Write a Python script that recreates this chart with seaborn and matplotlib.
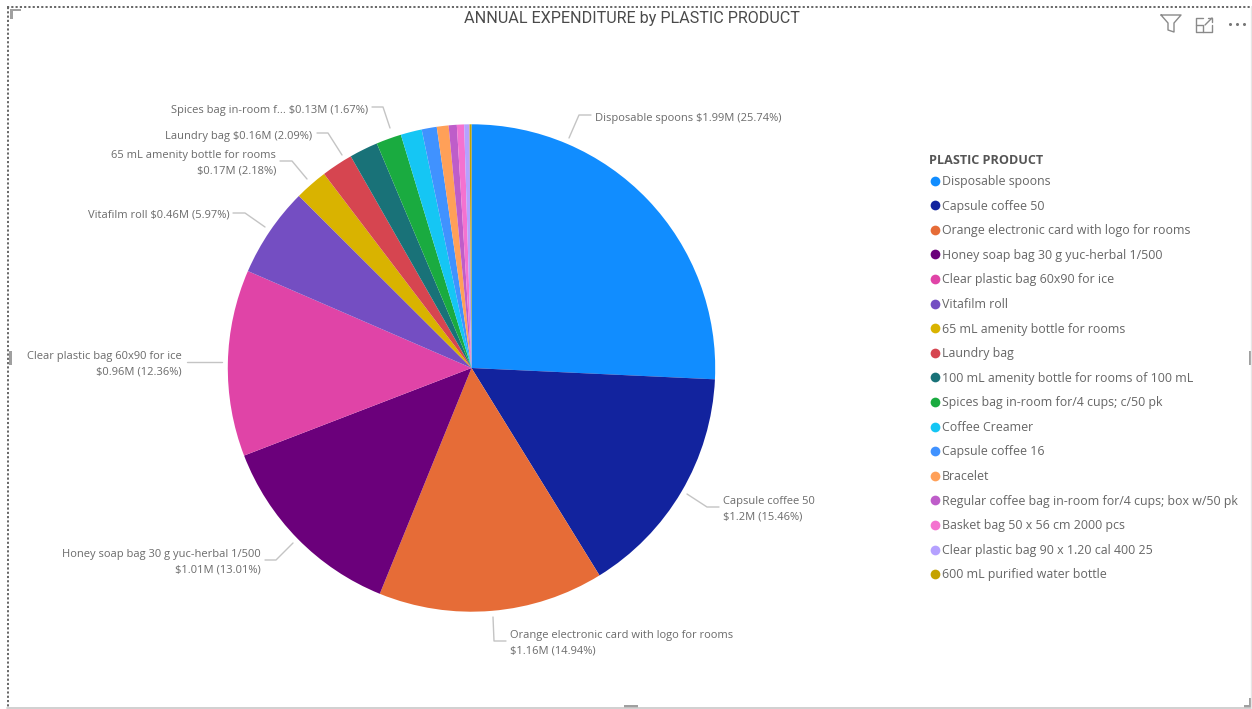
import matplotlib
matplotlib.use("Agg")
import matplotlib.pyplot as plt
from matplotlib.lines import Line2D
from matplotlib.patches import Rectangle
import seaborn as sns

products = [
    "Disposable spoons", "Capsule coffee 50", "Orange electronic card with logo for rooms",
    "Honey soap bag 30 g yuc-herbal 1/500", "Clear plastic bag 60x90 for ice", "Vitafilm roll",
    "65 mL amenity bottle for rooms", "Laundry bag", "100 mL amenity bottle for rooms of 100 mL",
    "Spices bag in-room for/4 cups; c/50 pk", "Coffee Creamer", "Capsule coffee 16", "Bracelet",
    "Regular coffee bag in-room for/4 cups; box w/50 pk", "Basket bag 50 x 56 cm 2000 pcs",
    "Clear plastic bag 90 x 1.20 cal 400 25", "600 mL purified water bottle",
]
share_pct = [25.74, 15.46, 14.94, 13.01, 12.36, 5.97, 2.18, 2.09,
             1.90, 1.67, 1.40, 1.00, 0.78, 0.54, 0.48, 0.35, 0.13]
product_colors = ["#118DFF", "#12239E", "#E66C37", "#6B007B", "#E044A7", "#744EC2",
                  "#D9B300", "#D64550", "#197278", "#1AAB40", "#15C6F4", "#4092FF",
                  "#FFA058", "#BE5DC9", "#F472D0", "#B5A1FF", "#C4A200"]

# Callout text, anchor and leader polyline, in canvas pixels measured from the top left
callouts = [
    ("Disposable spoons $1.99M (25.74%)", 595, 119, "left", [(569, 138), (579, 115), (591, 115)]),
    ("Capsule coffee 50\n$1.2M (15.46%)", 723, 509, "left", [(687, 494), (707, 507), (719, 507)]),
    ("Orange electronic card with logo for rooms\n$1.16M (14.94%)", 510, 643, "left",
     [(493, 617), (494, 641), (506, 641)]),
    ("Honey soap bag 30 g yuc-herbal 1/500\n$1.01M (13.01%)", 261, 562, "right",
     [(293, 543), (276, 560), (265, 560)]),
    ("Clear plastic bag 60x90 for ice\n$0.96M (12.36%)", 182, 364, "right", [(222, 362), (187, 362)]),
    ("Vitafilm roll $0.46M (5.97%)", 230, 215, "right", [(265, 227), (245, 213), (233, 213)]),
    ("65 mL amenity bottle for rooms\n$0.17M (2.18%)", 276, 163, "right",
     [(307, 179), (292, 161), (280, 161)]),
    ("Laundry bag $0.16M (2.09%)", 312, 136, "right", [(342, 155), (328, 133), (317, 133)]),
    ("Spices bag in-room f... $0.13M (1.67%)", 368, 110, "right", [(390, 128), (383, 107), (372, 107)]),
]

W, H = 1252, 709
sns.set_theme(style="white")
plt.rcParams["font.family"] = ["Open Sans", "DejaVu Sans"]
palette = sns.color_palette(product_colors)

fig = plt.figure(figsize=(W / 100, H / 100), dpi=100, facecolor="white")
ax = fig.add_axes([0, 0, 1, 1])


def yy(py):
    """Convert a top-down pixel row to the upward y axis used by the canvas."""
    return H - py


ax.pie(share_pct, colors=palette, startangle=90, counterclock=False, radius=243.7,
       center=(471.5, yy(368)), frame=True, wedgeprops={"linewidth": 0})
ax.set_xlim(0, W)
ax.set_ylim(0, H)
ax.set_aspect("equal")
ax.axis("off")

label_color = "#6b6b6b"
for text, x, y, ha, path in callouts:
    ax.text(x, yy(y), text, ha=ha, va="center", fontsize=8.0, color=label_color,
            linespacing=1.55)
    ax.add_line(Line2D([p[0] for p in path], [yy(p[1]) for p in path],
                       color="#c4c4c4", lw=1.0))

ax.text(631.5, yy(18), "ANNUAL EXPENDITURE by PLASTIC PRODUCT", ha="center", va="center",
        fontsize=11.6, color="#4a4a4a", family=["Roboto", "DejaVu Sans"])

# Legend
handles = [Line2D([], [], ls="none", marker="o", ms=7.0, mfc=c, mec=c, mew=0) for c in palette]
leg = ax.legend(handles, products, loc="upper left", bbox_to_anchor=(928.5 / W, 1 - 172.5 / H),
                bbox_transform=ax.transAxes, frameon=False,
                fontsize=8.88, labelspacing=0.94, handlelength=0.64,
                handletextpad=0.24, borderpad=0.2, borderaxespad=0)
for t in leg.get_texts():
    t.set_color("#666666")
ax.text(929, yy(160.5), "PLASTIC PRODUCT", ha="left", va="center", fontsize=9.1,
        fontweight="bold", color="#555555")

# Report canvas selection frame: dotted top and left, thin grey rules and handles
ax.add_line(Line2D([7, W], [yy(7), yy(7)], color="#666666", lw=1.4, dashes=(1.1, 1.1)))
ax.add_line(Line2D([8, 8], [yy(7), yy(708)], color="#666666", lw=1.4, dashes=(1.1, 1.1)))
ax.add_line(Line2D([7, W], [yy(708), yy(708)], color="#c8c8c8", lw=1.2))
ax.add_line(Line2D([W - 1, W - 1], [yy(7), yy(708)], color="#e6e6e6", lw=1.0))
handle_boxes = [(10, 9, 11, 2), (10, 9, 3, 10), (624, 705, 14, 3), (1244, 705, 8, 3),
                (1249, 698, 3, 10), (9, 351, 3, 14), (1249, 351, 3, 14)]
for bx, by, bw, bh in handle_boxes:
    ax.add_patch(Rectangle((bx, yy(by + bh)), bw, bh, color="#a0a0a0", lw=0))

# Visual header icons: filter, expand, more options
icon_color = "#8a8a8a"
ax.add_line(Line2D([1161, 1181, 1174, 1174, 1168, 1168, 1161],
                   [yy(15), yy(15), yy(23), yy(32), yy(30), yy(23), yy(15)],
                   color=icon_color, lw=1.0))
ax.add_line(Line2D([1203, 1196, 1196, 1212, 1212], [yy(18), yy(18), yy(32), yy(32), yy(25)],
                   color=icon_color, lw=1.0))
ax.add_line(Line2D([1196, 1203, 1203], [yy(25), yy(25), yy(32)], color=icon_color, lw=1.0))
ax.add_line(Line2D([1205, 1212], [yy(25), yy(18)], color=icon_color, lw=1.0))
ax.add_line(Line2D([1208, 1212, 1212], [yy(18), yy(18), yy(22)], color=icon_color, lw=1.0))
ax.plot([1230, 1237, 1244], [yy(24)] * 3, ls="none", marker="o", ms=2.2, color="#777777", mew=0)

fig.savefig("out.png", dpi=100, facecolor="white")
